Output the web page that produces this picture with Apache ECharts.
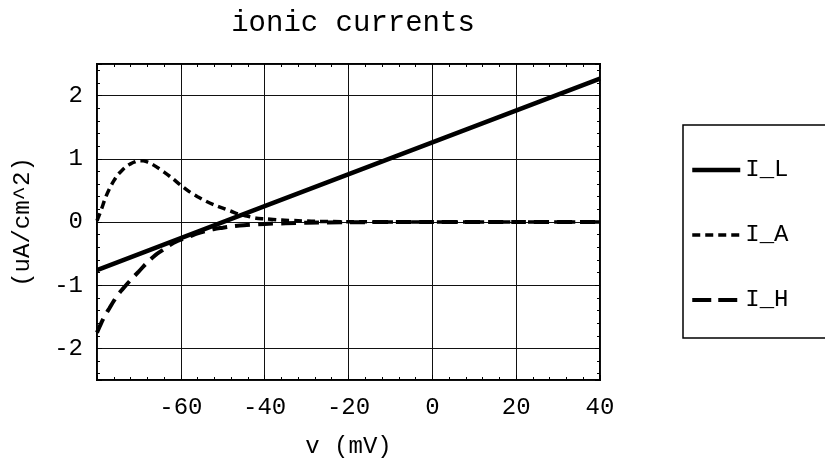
<!DOCTYPE html>
<html>
<head>
<meta charset="utf-8">
<script src="https://cdn.jsdelivr.net/npm/echarts@6/dist/echarts.min.js"></script>
<style>
  html, body { margin: 0; padding: 0; background: #fff; }
  #chart { width: 825px; height: 468px; }
</style>
</head>
<body>
<div id="chart"></div>
<script>
const chartDom = document.getElementById('chart');
const myChart = echarts.init(chartDom);

// membrane voltage (mV) and currents (uA/cm^2)
let vL = [-80, -40, 0, 40];
let iL = [-0.76, 0.25, 1.26, 2.27];

let vA = [-80, -79, -78, -77, -76, -75, -74, -73, -72, -71, -70, -69, -68, -67, -66, -64, -62, -60,
          -58, -56, -54, -52, -50, -48, -46, -44, -42, -40, -36, -32, -28, -20, -10, 0, 20, 40];
let iA = [0.02, 0.19, 0.38, 0.53, 0.65, 0.75, 0.82, 0.88, 0.92, 0.95, 0.97, 0.97, 0.95, 0.92, 0.88, 0.79, 0.69, 0.58,
          0.48, 0.40, 0.33, 0.27, 0.22, 0.17, 0.12, 0.09, 0.06, 0.05, 0.03, 0.02, 0.01, 0.005, 0, 0, 0, 0];

let vH = [-80, -79, -78, -77, -76, -75, -74, -72, -70, -68, -66, -64, -62, -60, -58, -56, -54, -52, -50,
          -48, -45, -40, -35, -30, -20, -10, 0, 20, 40];
let iH = [-1.75, -1.6, -1.47, -1.36, -1.25, -1.15, -1.07, -0.92, -0.78, -0.64, -0.52, -0.43, -0.34, -0.28, -0.23, -0.18, -0.14, -0.11, -0.09,
          -0.07, -0.05, -0.03, -0.02, -0.01, -0.005, 0, 0, 0, 0];

const pairs = (xs, ys) => xs.map((x, i) => [x, ys[i]]);
const font = 'Liberation Mono';

// line styles of the series
const styleL = { color: '#000', width: 4.5 };
const styleA = { color: '#000', width: 3.5, type: [8, 5] };
const styleH = { color: '#000', width: 4, type: [15, 8] };

// frame ticks, drawn inside on all four sides
const frameTick = { inside: true, length: 5, lineStyle: { color: '#000' } };
const frameMinor = { show: true, splitNumber: 5, length: 3, lineStyle: { color: '#000' } };

let option = {
    animation: false,
    backgroundColor: '#fff',
    title: {
        text: 'ionic currents',
        left: 348,
        textAlign: 'center',
        top: 4,
        textStyle: { fontFamily: font, fontSize: 29, fontWeight: 'normal', color: '#000' }
    },
    legend: {
        orient: 'vertical',
        left: 683,
        top: 125,
        itemWidth: 48,
        itemHeight: 14,
        itemGap: 41,
        padding: [33, 45, 26, 7],
        borderColor: '#000',
        borderWidth: 1.5,
        itemStyle: { opacity: 0 },
        textStyle: { fontFamily: font, fontSize: 24, color: '#000' },
        data: [
            { name: 'I_L', lineStyle: styleL },
            { name: 'I_A', lineStyle: styleA },
            { name: 'I_H', lineStyle: { color: '#000', width: 4, type: [19, 7] } }
        ]
    },
    grid: {
        left: 97,
        right: 225,
        top: 64,
        bottom: 88,
        show: true,
        borderColor: '#000',
        borderWidth: 2
    },
    xAxis: [
        {
            type: 'value',
            min: -80,
            max: 40,
            interval: 20,
            name: 'v (mV)',
            nameLocation: 'middle',
            nameGap: 55,
            nameTextStyle: { fontFamily: font, fontSize: 24, color: '#000' },
            axisLine: { show: false, onZero: false },
            axisTick: frameTick,
            minorTick: frameMinor,
            splitLine: { show: true, lineStyle: { color: '#111', width: 1 } },
            axisLabel: {
                showMinLabel: false,
                margin: 16,
                fontFamily: font, fontSize: 24, color: '#000'
            }
        },
        {
            type: 'value',
            position: 'top',
            min: -80,
            max: 40,
            interval: 20,
            axisLine: { show: false, onZero: false },
            axisTick: frameTick,
            minorTick: frameMinor,
            splitLine: { show: false },
            axisLabel: { show: false }
        }
    ],
    yAxis: [
        {
            type: 'value',
            min: -2.5,
            max: 2.5,
            splitNumber: 5,
            name: '(uA/cm^2)',
            nameLocation: 'middle',
            nameGap: 62,
            nameRotate: 90,
            nameTextStyle: { fontFamily: font, fontSize: 24, color: '#000' },
            axisLine: { show: false, onZero: false },
            axisTick: frameTick,
            minorTick: frameMinor,
            splitLine: { show: true, lineStyle: { color: '#111', width: 1 } },
            axisLabel: {
                showMinLabel: false,
                showMaxLabel: false,
                margin: 14,
                fontFamily: font, fontSize: 24, color: '#000'
            }
        },
        {
            type: 'value',
            position: 'right',
            min: -2.5,
            max: 2.5,
            splitNumber: 5,
            axisLine: { show: false, onZero: false },
            axisTick: frameTick,
            minorTick: frameMinor,
            splitLine: { show: false },
            axisLabel: { show: false }
        }
    ],
    series: [
        {
            name: 'I_L',
            type: 'line',
            showSymbol: false,
            symbol: 'none',
            lineStyle: styleL,
            itemStyle: { color: '#000' },
            data: pairs(vL, iL)
        },
        {
            name: 'I_A',
            type: 'line',
            smooth: 0.3,
            showSymbol: false,
            symbol: 'none',
            lineStyle: styleA,
            itemStyle: { color: '#000' },
            data: pairs(vA, iA)
        },
        {
            name: 'I_H',
            type: 'line',
            smooth: 0.3,
            showSymbol: false,
            symbol: 'none',
            lineStyle: styleH,
            itemStyle: { color: '#000' },
            data: pairs(vH, iH)
        }
    ]
};

myChart.setOption(option);
</script>
</body>
</html>
